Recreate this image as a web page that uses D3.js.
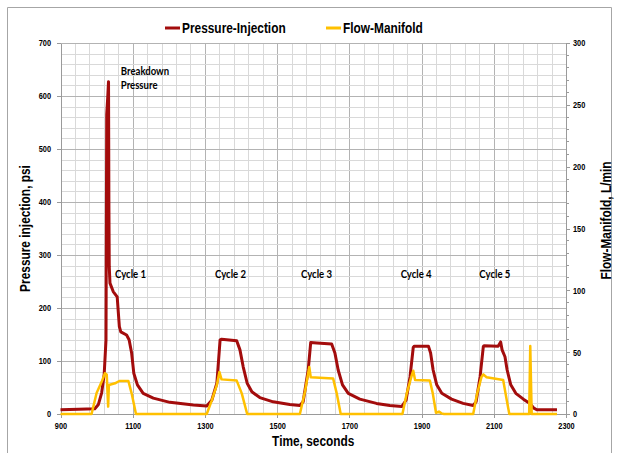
<!DOCTYPE html>
<meta charset="utf-8">
<style>
    body { margin: 0; background: #fff; }
    .chart text { fill: #000; }
</style>
<body>
<div class="chart"></div>
<script src="https://d3js.org/d3.v7.min.js"></script>
<script>

    // pressure-injection, psi
    let pressureTime = [900, 950, 995, 1005, 1014, 1021, 1026, 1028, 1031, 1033, 1034, 1035, 1037, 1046, 1057, 1063, 1067,
        1083, 1090, 1097, 1103, 1113, 1129, 1157, 1203, 1268, 1305, 1319, 1333, 1342, 1346, 1388, 1397, 1406, 1417,
        1430, 1452, 1489, 1535, 1563, 1572, 1586, 1593, 1610, 1651, 1660, 1669, 1681, 1697, 1729, 1775, 1812, 1845,
        1857, 1868, 1877, 1880, 1919, 1925, 1932, 1942, 1956, 1983, 2015, 2043, 2051, 2062, 2071, 2073, 2112, 2119,
        2123, 2131, 2137, 2147, 2161, 2182, 2200, 2211, 2219, 2275];
    let pressure = [8, 9, 10, 18, 40, 75, 140, 565, 600, 627, 400, 278, 247, 231, 221, 165, 155,
        149, 140, 115, 77, 55, 39, 30, 22, 17, 15, 26, 58, 140, 141, 138, 121, 89, 58,
        42, 31, 23, 18, 16, 23, 83, 135, 134, 132, 115, 83, 55, 39, 28, 20, 16, 14,
        26, 70, 126, 128, 128, 115, 83, 55, 39, 28, 20, 16, 23, 70, 127, 129, 128, 136,
        121, 108, 83, 55, 39, 28, 20, 11, 8, 8];

    // flow-manifold, L/min
    let flowTime = [900, 986, 1000, 1014, 1023, 1028, 1032, 1034, 1051, 1063, 1088, 1097, 1109, 1305, 1319, 1333,
        1340, 1346, 1388, 1402, 1417, 1563, 1577, 1589, 1593, 1655, 1665, 1676, 1847, 1859, 1873, 1877, 1882,
        1923, 1931, 1940, 1948, 1955, 1962, 2043, 2054, 2066, 2071, 2080, 2126, 2136, 2143, 2198, 2201, 2205, 2275];
    let flow = [0, 0, 17, 26, 33, 32, 6, 23.5, 24.8, 26.7, 26.7, 16.7, 0, 0, 11, 23.5,
        34, 28, 27, 16.7, 0, 0, 18, 38, 29.7, 28.8, 16.7, 0, 0, 16.7, 31.5, 35, 27.5,
        27, 16.7, 1, 2, 0.5, 0, 0, 16.7, 30, 32, 29.7, 27.5, 11, 0, 0, 55, 0, 0];

    let xTicks = [900, 1100, 1300, 1500, 1700, 1900, 2100, 2300];
    let leftTicks = [0, 100, 200, 300, 400, 500, 600, 700];
    let rightTicks = [0, 50, 100, 150, 200, 250, 300];

    // annotation text, anchored in data units (time, psi)
    let noteText = ["Breakdown", "Pressure", "Cycle 1", "Cycle 2", "Cycle 3", "Cycle 4", "Cycle 5"];
    let noteTime = [1067, 1067, 1051, 1328, 1566, 1842, 2060];
    let notePsi = [640, 613, 257, 257, 257, 257, 257];

    let width = 619, height = 453;
    let margin = {top: 43, right: 53, bottom: 39, left: 60.5};
    let redColour = "#a30c0c", goldColour = "#ffc000";
    let font = "'Liberation Sans', Arial, sans-serif";
    let squeeze = 0.82;   // no narrow face installed, so squash the sans horizontally

    let svg = d3.select(".chart").append("svg")
        .attr("width", width)
        .attr("height", height)
        .style("display", "block");

    svg.append("rect").attr("width", width).attr("height", height).attr("fill", "#fff");

    // chart frame
    svg.append("path")
        .attr("d", "M7.5," + height + "V7.5H611.5V" + height)
        .attr("fill", "none")
        .attr("stroke", "#a6a6a6")
        .attr("stroke-width", 1);

    let x = d3.scaleLinear().domain([900, 2300]).range([margin.left, width - margin.right]);
    let yL = d3.scaleLinear().domain([0, 700]).range([height - margin.bottom, margin.top]);
    let yR = d3.scaleLinear().domain([0, 300]).range([height - margin.bottom, margin.top]);

    // grid
    let grid = svg.append("g").attr("shape-rendering", "crispEdges");
    grid.selectAll(".vg")
        .data(d3.range(900, 2301, 40))
        .join("line")
        .attr("x1", d => Math.round(x(d)) + 0.5).attr("x2", d => Math.round(x(d)) + 0.5)
        .attr("y1", yL(0)).attr("y2", yL(700))
        .attr("stroke", d => (d - 900) % 200 === 0 ? "#b3b3b3" : "#d9d9d9");
    grid.selectAll(".hg")
        .data(d3.range(0, 701, 20))
        .join("line")
        .attr("x1", x(900)).attr("x2", x(2300))
        .attr("y1", d => Math.round(yL(d)) + 0.5).attr("y2", d => Math.round(yL(d)) + 0.5)
        .attr("stroke", d => d % 100 === 0 ? "#b3b3b3" : "#d9d9d9");

    // axes
    let styleAxis = g => {
        g.select(".domain").attr("stroke", "#9a9a9a");
        g.selectAll(".tick line").attr("stroke", "#9a9a9a");
        g.selectAll(".tick text")
            .style("font-family", font)
            .style("font-size", "9px")
            .style("font-weight", "bold")
            .attr("fill", "#000")
            .attr("transform", `scale(${squeeze},1)`);
    };

    svg.append("g")
        .attr("transform", `translate(0,${yL(0)})`)
        .attr("shape-rendering", "crispEdges")
        .call(d3.axisBottom(x).tickValues(xTicks).tickFormat(d3.format("d")).tickSizeInner(4).tickSizeOuter(0).tickPadding(5))
        .call(styleAxis);

    svg.append("g")
        .attr("transform", `translate(${x(900)},0)`)
        .attr("shape-rendering", "crispEdges")
        .call(d3.axisLeft(yL).tickValues(leftTicks).tickSizeInner(4).tickSizeOuter(0).tickPadding(7.5))
        .call(styleAxis);

    let right = svg.append("g")
        .attr("transform", `translate(${x(2300)},0)`)
        .attr("shape-rendering", "crispEdges")
        .call(d3.axisRight(yR).tickValues(rightTicks).tickSizeInner(4).tickSizeOuter(0).tickPadding(4.5))
        .call(styleAxis);
    right.selectAll(".minor")
        .data(d3.range(0, 301, 10).filter(d => d % 50 !== 0))
        .join("line")
        .attr("x1", 0).attr("x2", 3)
        .attr("y1", d => yR(d)).attr("y2", d => yR(d))
        .attr("stroke", "#9a9a9a");

    // series
    let pressurePts = pressureTime.map((t, i) => [t, pressure[i]]);
    let flowPts = flowTime.map((t, i) => [t, flow[i]]);

    svg.append("path")
        .datum(pressurePts)
        .attr("fill", "none")
        .attr("stroke", redColour)
        .attr("stroke-width", 3)
        .attr("stroke-linejoin", "round")
        .attr("d", d3.line().x(d => x(d[0])).y(d => yL(d[1])));

    svg.append("path")
        .datum(flowPts)
        .attr("fill", "none")
        .attr("stroke", goldColour)
        .attr("stroke-width", 2.5)
        .attr("stroke-linejoin", "round")
        .attr("d", d3.line().x(d => x(d[0])).y(d => yR(d[1])));

    // annotations
    svg.append("g")
        .selectAll("text")
        .data(noteText)
        .join("text")
        .attr("transform", (d, i) => `translate(${x(noteTime[i])},${yL(notePsi[i])}) scale(0.87,1)`)
        .style("font-family", "Lato, 'Open Sans', sans-serif")
        .style("font-size", "11px")
        .style("font-weight", "bold")
        .attr("fill", "#111")
        .text(d => d);

    // axis titles
    let title = (sel) => sel
        .style("font-family", font)
        .style("font-size", "14.5px")
        .style("font-weight", "bold")
        .attr("text-anchor", "middle");

    svg.append("text")
        .attr("transform", `translate(${(x(900) + x(2300)) / 2},446) scale(${squeeze},1)`)
        .text("Time, seconds")
        .call(title);

    svg.append("text")
        .attr("transform", `translate(30,${(yL(0) + yL(700)) / 2}) rotate(-90) scale(${squeeze},1)`)
        .text("Pressure injection, psi")
        .call(title);

    svg.append("text")
        .attr("transform", `translate(611,${(yR(0) + yR(300)) / 2 - 8}) rotate(-90) scale(${squeeze},1)`)
        .text("Flow-Manifold, L/min")
        .call(title);

    // legend
    let legendItems = [
        {name: "Pressure-Injection", colour: redColour, x0: 165},
        {name: "Flow-Manifold", colour: goldColour, x0: 326}
    ];
    let legend = svg.append("g").selectAll("g")
        .data(legendItems)
        .join("g")
        .attr("transform", d => `translate(${d.x0},28)`);
    legend.append("line")
        .attr("x1", 0).attr("x2", 15)
        .attr("stroke", d => d.colour)
        .attr("stroke-width", 3);
    legend.append("text")
        .attr("transform", `translate(17,0) scale(${squeeze},1)`)
        .attr("dy", "0.35em")
        .style("font-family", font)
        .style("font-size", "14.5px")
        .style("font-weight", "bold")
        .text(d => d.name);

</script>
